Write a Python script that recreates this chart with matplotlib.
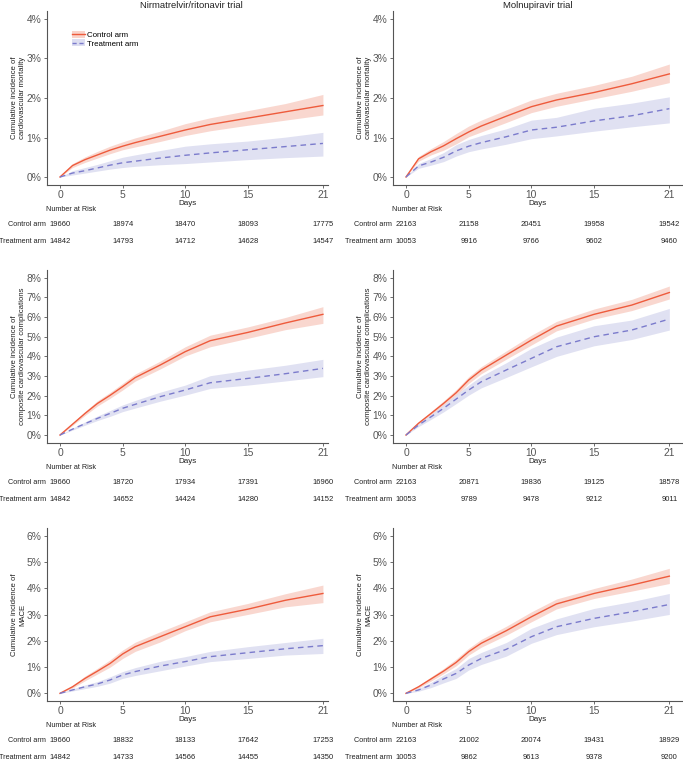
import matplotlib
matplotlib.use("Agg")
import matplotlib.pyplot as plt
import matplotlib.transforms as mtransforms
from matplotlib.patches import Patch
from matplotlib.lines import Line2D

plt.rcParams['font.family'] = ['Liberation Sans', 'DejaVu Sans']

W, H = 683, 768

days = [0, 1, 2, 3, 4, 5, 6, 8, 10, 12, 15, 18, 21]
risk_days = [0, 5, 10, 15, 21]

# Nirmatrelvir/ritonavir - cardiovascular mortality (%)
nr_cvm_ctrl = [0, 0.29, 0.44, 0.56, 0.68, 0.78, 0.87, 1.03, 1.19, 1.33, 1.49, 1.65, 1.81]
nr_cvm_ctrl_lo = [0, 0.24, 0.37, 0.48, 0.59, 0.69, 0.76, 0.90, 1.05, 1.17, 1.31, 1.44, 1.57]
nr_cvm_ctrl_hi = [0, 0.34, 0.51, 0.65, 0.78, 0.89, 0.99, 1.16, 1.35, 1.50, 1.68, 1.86, 2.09]
nr_cvm_trt = [0, 0.10, 0.16, 0.23, 0.30, 0.36, 0.40, 0.48, 0.55, 0.61, 0.69, 0.77, 0.85]
nr_cvm_trt_lo = [0, 0.05, 0.10, 0.15, 0.20, 0.24, 0.27, 0.31, 0.34, 0.38, 0.44, 0.49, 0.53]
nr_cvm_trt_hi = [0, 0.16, 0.24, 0.32, 0.41, 0.50, 0.56, 0.67, 0.78, 0.84, 0.91, 1.01, 1.13]

# Molnupiravir - cardiovascular mortality (%)
mo_cvm_ctrl = [0, 0.46, 0.64, 0.79, 0.97, 1.14, 1.29, 1.54, 1.78, 1.95, 2.14, 2.36, 2.61]
mo_cvm_ctrl_lo = [0, 0.40, 0.56, 0.68, 0.84, 1.02, 1.14, 1.38, 1.63, 1.79, 1.98, 2.17, 2.39]
mo_cvm_ctrl_hi = [0, 0.52, 0.72, 0.90, 1.10, 1.29, 1.44, 1.70, 1.95, 2.12, 2.32, 2.55, 2.86]
mo_cvm_trt = [0, 0.28, 0.38, 0.50, 0.66, 0.78, 0.87, 1.02, 1.19, 1.26, 1.42, 1.55, 1.73]
mo_cvm_trt_lo = [0, 0.22, 0.30, 0.39, 0.53, 0.64, 0.71, 0.83, 0.97, 1.04, 1.16, 1.27, 1.37]
mo_cvm_trt_hi = [0, 0.34, 0.47, 0.62, 0.82, 0.95, 1.05, 1.22, 1.44, 1.51, 1.74, 1.87, 2.03]

# Nirmatrelvir/ritonavir - composite cardiovascular complications (%)
nr_comp_ctrl = [0, 0.55, 1.10, 1.61, 2.02, 2.46, 2.92, 3.56, 4.24, 4.80, 5.22, 5.70, 6.14]
nr_comp_ctrl_lo = [0, 0.49, 1.00, 1.48, 1.87, 2.29, 2.74, 3.36, 4.02, 4.49, 4.92, 5.36, 5.68]
nr_comp_ctrl_hi = [0, 0.61, 1.20, 1.75, 2.17, 2.63, 3.10, 3.76, 4.49, 5.08, 5.50, 5.98, 6.53]
nr_comp_trt = [0, 0.30, 0.58, 0.85, 1.10, 1.36, 1.56, 1.95, 2.29, 2.66, 2.88, 3.12, 3.39]
nr_comp_trt_lo = [0, 0.25, 0.50, 0.74, 0.95, 1.19, 1.37, 1.72, 2.03, 2.37, 2.54, 2.75, 2.97]
nr_comp_trt_hi = [0, 0.35, 0.67, 0.97, 1.25, 1.53, 1.76, 2.18, 2.54, 3.02, 3.30, 3.55, 3.85]

# Molnupiravir - composite cardiovascular complications (%)
mo_comp_ctrl = [0, 0.60, 1.10, 1.61, 2.15, 2.80, 3.30, 4.07, 4.83, 5.54, 6.14, 6.61, 7.25]
mo_comp_ctrl_lo = [0, 0.54, 1.00, 1.48, 1.99, 2.63, 3.12, 3.86, 4.58, 5.30, 5.90, 6.33, 6.92]
mo_comp_ctrl_hi = [0, 0.66, 1.20, 1.74, 2.31, 2.97, 3.48, 4.28, 5.08, 5.78, 6.41, 6.90, 7.58]
mo_comp_trt = [0, 0.51, 0.93, 1.36, 1.83, 2.29, 2.71, 3.31, 3.90, 4.49, 5.00, 5.34, 5.90]
mo_comp_trt_lo = [0, 0.43, 0.80, 1.18, 1.60, 2.03, 2.40, 2.93, 3.47, 4.00, 4.54, 4.86, 5.34]
mo_comp_trt_hi = [0, 0.59, 1.06, 1.54, 2.06, 2.54, 3.00, 3.68, 4.41, 4.98, 5.56, 5.85, 6.44]

# Nirmatrelvir/ritonavir - MACE (%)
nr_mace_ctrl = [0, 0.25, 0.57, 0.85, 1.14, 1.50, 1.78, 2.16, 2.54, 2.92, 3.21, 3.55, 3.81]
nr_mace_ctrl_lo = [0, 0.20, 0.48, 0.74, 1.00, 1.33, 1.60, 1.96, 2.39, 2.73, 3.01, 3.30, 3.46]
nr_mace_ctrl_hi = [0, 0.30, 0.66, 0.96, 1.28, 1.65, 1.95, 2.35, 2.73, 3.11, 3.43, 3.80, 4.13]
nr_mace_trt = [0, 0.13, 0.25, 0.36, 0.51, 0.70, 0.83, 1.04, 1.21, 1.40, 1.55, 1.70, 1.82]
nr_mace_trt_lo = [0, 0.09, 0.18, 0.27, 0.39, 0.57, 0.68, 0.86, 1.04, 1.21, 1.33, 1.46, 1.52]
nr_mace_trt_hi = [0, 0.17, 0.32, 0.45, 0.63, 0.83, 0.98, 1.22, 1.40, 1.60, 1.78, 1.94, 2.10]

# Molnupiravir - MACE (%)
mo_mace_ctrl = [0, 0.25, 0.55, 0.85, 1.18, 1.59, 1.91, 2.39, 2.92, 3.41, 3.81, 4.13, 4.47]
mo_mace_ctrl_lo = [0, 0.20, 0.47, 0.75, 1.05, 1.46, 1.76, 2.22, 2.73, 3.22, 3.62, 3.90, 4.19]
mo_mace_ctrl_hi = [0, 0.30, 0.63, 0.95, 1.31, 1.72, 2.06, 2.56, 3.11, 3.60, 4.00, 4.36, 4.77]
mo_mace_trt = [0, 0.13, 0.32, 0.55, 0.76, 1.08, 1.33, 1.68, 2.16, 2.54, 2.86, 3.11, 3.39]
mo_mace_trt_lo = [0, 0.08, 0.22, 0.40, 0.57, 0.89, 1.10, 1.42, 1.91, 2.24, 2.54, 2.76, 3.01]
mo_mace_trt_hi = [0, 0.18, 0.42, 0.70, 0.95, 1.33, 1.56, 1.94, 2.48, 2.84, 3.24, 3.50, 3.81]

# numbers at risk
nr_cvm_risk_ctrl = [19660, 18974, 18470, 18093, 17775]
nr_cvm_risk_trt = [14842, 14793, 14712, 14628, 14547]
nr_comp_risk_ctrl = [19660, 18720, 17934, 17391, 16960]
nr_comp_risk_trt = [14842, 14652, 14424, 14280, 14152]
nr_mace_risk_ctrl = [19660, 18832, 18133, 17642, 17253]
nr_mace_risk_trt = [14842, 14733, 14566, 14455, 14350]
mo_cvm_risk_ctrl = [22163, 21158, 20451, 19958, 19542]
mo_cvm_risk_trt = [10053, 9916, 9766, 9602, 9460]
mo_comp_risk_ctrl = [22163, 20871, 19836, 19125, 18578]
mo_comp_risk_trt = [10053, 9789, 9478, 9212, 9011]
mo_mace_risk_ctrl = [22163, 21002, 20074, 19431, 18929]
mo_mace_risk_trt = [10053, 9862, 9613, 9378, 9200]

titles = ["Nirmatrelvir/ritonavir trial", "Molnupiravir trial"]
ylabels = ["Cumulative incidence of\ncardiovascular mortality",
           "Cumulative incidence of\ncomposite cardiovascular complications",
           "Cumulative incidence of\nMACE"]
ymaxes = [4, 8, 6]

CTRL = "#EE5B3C"
CTRL_FILL = "#F9D3CA"
TRT = "#7B7BCC"
TRT_FILL = "#DDDEF1"
GREY = "#555555"
INK = "#222222"

panels = [
    [(nr_cvm_ctrl, nr_cvm_ctrl_lo, nr_cvm_ctrl_hi, nr_cvm_trt, nr_cvm_trt_lo, nr_cvm_trt_hi, nr_cvm_risk_ctrl, nr_cvm_risk_trt),
     (mo_cvm_ctrl, mo_cvm_ctrl_lo, mo_cvm_ctrl_hi, mo_cvm_trt, mo_cvm_trt_lo, mo_cvm_trt_hi, mo_cvm_risk_ctrl, mo_cvm_risk_trt)],
    [(nr_comp_ctrl, nr_comp_ctrl_lo, nr_comp_ctrl_hi, nr_comp_trt, nr_comp_trt_lo, nr_comp_trt_hi, nr_comp_risk_ctrl, nr_comp_risk_trt),
     (mo_comp_ctrl, mo_comp_ctrl_lo, mo_comp_ctrl_hi, mo_comp_trt, mo_comp_trt_lo, mo_comp_trt_hi, mo_comp_risk_ctrl, mo_comp_risk_trt)],
    [(nr_mace_ctrl, nr_mace_ctrl_lo, nr_mace_ctrl_hi, nr_mace_trt, nr_mace_trt_lo, nr_mace_trt_hi, nr_mace_risk_ctrl, nr_mace_risk_trt),
     (mo_mace_ctrl, mo_mace_ctrl_lo, mo_mace_ctrl_hi, mo_mace_trt, mo_mace_trt_lo, mo_mace_trt_hi, mo_mace_risk_ctrl, mo_mace_risk_trt)],
]

# panel geometry in pixels: (axes top, axes bottom) per row, (x of day 0, px per day) per column
row_px = [(11.1, 184.9), (269.9, 442.9), (528.2, 701.2)]
col_px = [(60.0, 12.52), (406.0, 12.54)]
col_xmax = [21.4, 22.05]

fig = plt.figure(figsize=(W / 100, H / 100), dpi=100)

for r in range(3):
    top, bot = row_px[r]
    ymax = ymaxes[r]
    for c in range(2):
        x0, ppd = col_px[c]
        xl = x0 - 1.05 * ppd
        xr = x0 + col_xmax[c] * ppd
        ax = fig.add_axes([xl / W, 1 - bot / H, (xr - xl) / W, (bot - top) / H])
        ctrl, ctrl_lo, ctrl_hi, trt, trt_lo, trt_hi, risk_c, risk_t = panels[r][c]

        ax.fill_between(days, ctrl_lo, ctrl_hi, color=CTRL_FILL, lw=0, alpha=0.9)
        ax.fill_between(days, trt_lo, trt_hi, color=TRT_FILL, lw=0, alpha=0.9)
        ax.plot(days, ctrl, color=CTRL, lw=1.0)
        ax.plot(days, trt, color=TRT, lw=1.0, ls=(0, (4, 3)))

        ax.set_xlim(-1.05, col_xmax[c])
        ax.set_ylim(-0.05 * ymax, 1.05 * ymax)
        ax.set_xticks([0, 5, 10, 15, 21])
        ax.set_yticks(range(0, ymax + 1))
        ax.set_yticklabels([f"{v}%" for v in range(0, ymax + 1)])
        ax.tick_params(labelsize=7.4, colors=GREY, length=2.5, width=0.6, pad=1.5)
        ax.tick_params(axis="x", pad=1.0)
        for s in ["top", "right"]:
            ax.spines[s].set_visible(False)
        for s in ["left", "bottom"]:
            ax.spines[s].set_color(GREY)
            ax.spines[s].set_linewidth(0.8)
        ax.set_xlabel("Days", fontsize=5.8, color=INK, labelpad=0.2)
        ax.set_ylabel(ylabels[r], fontsize=5.6, color=INK, labelpad=0, linespacing=1.25)

        if r == 0:
            fig.text((x0 + 10.5 * ppd) / W, 1 - 5 / H, titles[c], ha="center", va="center",
                     fontsize=6.8, color=INK)
        if r == 0 and c == 0:
            h1 = (Patch(facecolor=CTRL_FILL, lw=0), Line2D([], [], color=CTRL, lw=1.0))
            h2 = (Patch(facecolor=TRT_FILL, lw=0), Line2D([], [], color=TRT, lw=1.0, ls=(0, (3, 2))))
            ax.legend([h1, h2], ["Control arm", "Treatment arm"], loc="upper left",
                      bbox_to_anchor=(0.088, 0.885), frameon=False, fontsize=5.7,
                      handlelength=1.65, handleheight=0.9, handletextpad=0.3,
                      labelspacing=0.05, borderaxespad=0, borderpad=0)

        # risk table below the panel
        tr = mtransforms.blended_transform_factory(ax.transData, fig.transFigure)
        y_head = bot + 24.5
        y_c = bot + 39.5
        y_t = bot + 56.5
        fig.text((x0 - 13.5) / W, 1 - y_head / H, "Number at Risk", ha="left", va="center",
                 fontsize=5.2, color=INK)
        fig.text((x0 - 14.0) / W, 1 - y_c / H, "Control arm", ha="right", va="center",
                 fontsize=5.2, color=INK)
        fig.text((x0 - 14.0) / W, 1 - y_t / H, "Treatment arm", ha="right", va="center",
                 fontsize=5.2, color=INK)
        for d, nc, nt in zip(risk_days, risk_c, risk_t):
            ax.text(d, 1 - y_c / H, str(nc), transform=tr, ha="center", va="center",
                    fontsize=5.5, color=INK)
            ax.text(d, 1 - y_t / H, str(nt), transform=tr, ha="center", va="center",
                    fontsize=5.5, color=INK)

fig.savefig("out.png", dpi=100)
